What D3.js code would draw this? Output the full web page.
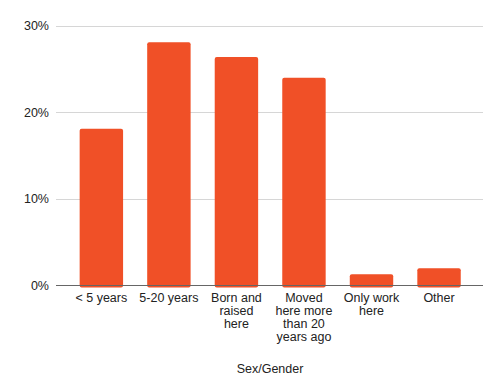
<!DOCTYPE html>
<html>
<head>
<meta charset="utf-8">
<script src="https://cdn.jsdelivr.net/npm/d3@7"></script>
<style>
  body { margin: 0; background: #fff; }
  text { font-family: Arial, "Liberation Sans", sans-serif; fill: #222; }
</style>
</head>
<body>
<script>
// categories + values
var categories = ['< 5 years', '5-20 years', 'Born and raised here', 'Moved here more than 20 years ago', 'Only work here', 'Other'];
var catLines = [['< 5 years'], ['5-20 years'], ['Born and', 'raised', 'here'], ['Moved', 'here more', 'than 20', 'years ago'], ['Only work', 'here'], ['Other']];
var values = [18.1, 28.1, 26.4, 24.0, 1.3, 2.0];
var yTicks = [0, 10, 20, 30];
var xTitle = 'Sex/Gender';

var svgWidth = 499, svgHeight = 377;
var svg = d3.select('body').append('svg').attr('width', svgWidth).attr('height', svgHeight);

var x = d3.scaleBand().domain(categories).range([67.6, 472.8]).paddingInner(0.357).paddingOuter(0.1785);
var y = d3.scaleLinear().domain([0, 30]).range([285.5, 25.7]);

// gridlines
svg.selectAll('line.grid')
  .data(yTicks.filter(function (d) { return d > 0; }))
  .enter().append('line')
  .attr('class', 'grid')
  .attr('x1', 56).attr('x2', 483)
  .attr('y1', function (d) { return Math.round(y(d)) + 0.5; })
  .attr('y2', function (d) { return Math.round(y(d)) + 0.5; })
  .attr('stroke', '#d6d6d6').attr('stroke-width', 1);

// y labels
svg.selectAll('text.ylab')
  .data(yTicks)
  .enter().append('text')
  .attr('class', 'ylab')
  .attr('x', 49)
  .attr('y', function (d) { return y(d); })
  .attr('dy', '0.36em')
  .attr('text-anchor', 'end')
  .attr('font-size', '12.5px')
  .text(function (d) { return d + '%'; });

// bars
svg.selectAll('rect.bar')
  .data(values)
  .enter().append('rect')
  .attr('class', 'bar')
  .attr('x', function (d, i) { return x(categories[i]); })
  .attr('width', x.bandwidth())
  .attr('y', function (d) { return y(d); })
  .attr('height', function (d) { return y(0) - y(d) + 2; })
  .attr('rx', 2)
  .attr('fill', '#f05027');

// baseline
svg.append('line')
  .attr('x1', 56).attr('x2', 483)
  .attr('y1', 285.5).attr('y2', 285.5)
  .attr('stroke', '#666').attr('stroke-width', 1);

// category labels
var lab = svg.selectAll('text.xlab')
  .data(catLines)
  .enter().append('text')
  .attr('class', 'xlab')
  .attr('text-anchor', 'middle')
  .attr('font-size', '12.5px');
lab.each(function (lines, i) {
  var cx = x(categories[i]) + x.bandwidth() / 2;
  d3.select(this).selectAll('tspan')
    .data(lines)
    .enter().append('tspan')
    .attr('x', cx)
    .attr('y', function (d, j) { return 302.3 + j * 12.9; })
    .text(function (d) { return d; });
});

// axis title
svg.append('text')
  .attr('x', 270)
  .attr('y', 372.6)
  .attr('text-anchor', 'middle')
  .attr('font-size', '12.5px')
  .text(xTitle);
</script>
</body>
</html>
